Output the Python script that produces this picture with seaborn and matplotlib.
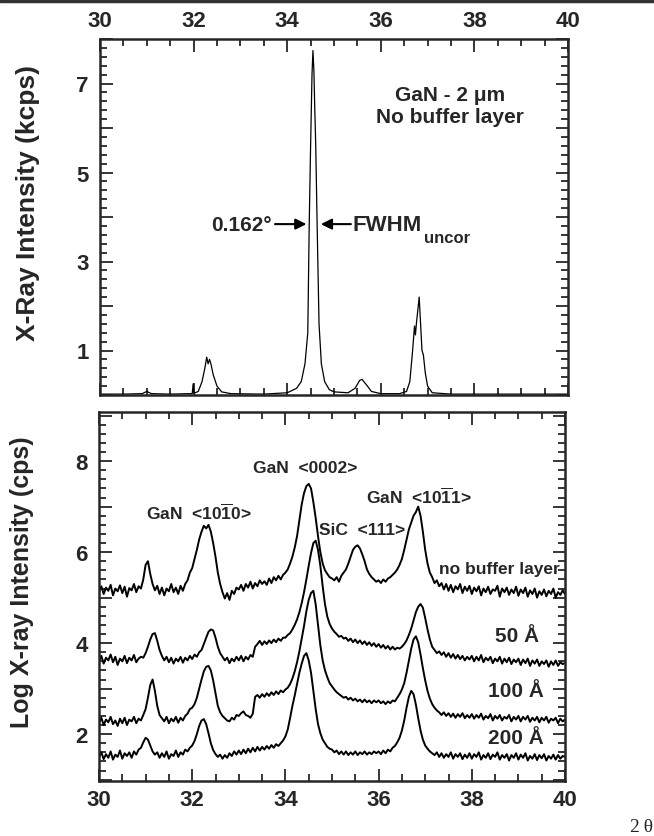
import numpy as np
import pandas as pd
import seaborn as sns
import matplotlib.pyplot as plt
from matplotlib.ticker import MultipleLocator, FuncFormatter
from matplotlib.lines import Line2D

# top panel: GaN 2 um, no buffer layer, linear intensity (kcps)
top_theta = [30.0, 30.5, 30.9, 31.0, 31.1, 31.5, 31.9, 31.97, 31.99, 32.01, 32.1, 32.18,
             32.24, 32.28, 32.31, 32.34, 32.37, 32.42, 32.5, 32.6, 32.8, 33.5, 34.0, 34.2,
             34.3, 34.38, 34.44, 34.47, 34.5, 34.53, 34.55, 34.57, 34.59, 34.61, 34.64,
             34.68, 34.73, 34.8, 34.9, 35.0, 35.3, 35.45, 35.55, 35.6, 35.7, 35.8, 36.0,
             36.4, 36.55, 36.62, 36.68, 36.72, 36.74, 36.76, 36.79, 36.82, 36.85, 36.88,
             36.91, 36.95, 37.0, 37.1, 37.5, 40.0]
top_kcps = [0.02, 0.02, 0.03, 0.08, 0.03, 0.02, 0.03, 0.03, 0.25, 0.04, 0.08, 0.3,
            0.6, 0.85, 0.7, 0.8, 0.7, 0.45, 0.2, 0.07, 0.03, 0.02, 0.05, 0.15,
            0.3, 0.7, 1.4, 3.8, 5.6, 7.2, 7.74, 7.3, 6.4, 5.6, 3.8,
            1.6, 0.7, 0.3, 0.12, 0.07, 0.05, 0.15, 0.33, 0.35, 0.22, 0.08, 0.03,
            0.03, 0.08, 0.3, 1.0, 1.55, 1.35, 1.6, 1.9, 2.2, 1.6, 1.0,
            0.9, 0.5, 0.2, 0.05, 0.02, 0.02]

# bottom panel: log intensity, read every 0.05 deg from 30 to 40
theta = np.linspace(30, 40, 201)

no_buffer = [
    5.12, 5.25, 5.08, 5.22, 5.15, 5.28, 5.05, 5.20, 5.14, 5.27, 5.10, 5.24, 5.02, 5.21, 5.16, 5.30, 5.12, 5.25, 5.20, 5.40,
    5.72, 5.80, 5.52, 5.30, 5.16, 5.26, 5.08, 5.22, 5.05, 5.20, 5.14, 5.30, 5.12, 5.22, 5.08, 5.26, 5.15, 5.30, 5.38, 5.55,
    5.65, 5.85, 6.05, 6.28, 6.45, 6.58, 6.52, 6.60, 6.45, 6.20, 5.90, 5.55, 5.30, 5.12, 4.98, 5.10, 4.95, 5.15, 5.08, 5.22,
    5.18, 5.28, 5.15, 5.30, 5.22, 5.35, 5.20, 5.32, 5.25, 5.38, 5.30, 5.36, 5.28, 5.42, 5.32, 5.45, 5.38, 5.48, 5.40, 5.50,
    5.55, 5.62, 5.75, 5.90, 6.10, 6.35, 6.70, 7.05, 7.30, 7.45, 7.50, 7.40, 7.10, 6.75, 6.35, 6.00, 5.75, 5.60, 5.52, 5.45,
    5.42, 5.38, 5.45, 5.35, 5.48, 5.55, 5.62, 5.75, 5.90, 6.05, 6.12, 6.15, 6.08, 5.95, 5.80, 5.62, 5.52, 5.45, 5.40, 5.35,
    5.38, 5.32, 5.40, 5.35, 5.42, 5.45, 5.50, 5.55, 5.62, 5.72, 5.85, 6.05, 6.28, 6.50, 6.65, 6.80, 6.88, 7.00, 6.80, 6.45,
    6.05, 5.75, 5.55, 5.45, 5.32, 5.38, 5.25, 5.32, 5.18, 5.30, 5.15, 5.28, 5.12, 5.25, 5.18, 5.30, 5.10, 5.24, 5.15, 5.26,
    5.08, 5.22, 5.14, 5.25, 5.05, 5.20, 5.12, 5.24, 5.08, 5.18, 5.15, 5.26, 5.02, 5.20, 5.12, 5.22, 5.06, 5.18, 5.10, 5.24,
    5.04, 5.18, 5.10, 5.22, 5.02, 5.16, 5.08, 5.20, 5.00, 5.14, 5.06, 5.18, 5.03, 5.15, 5.08, 5.20, 5.00, 5.12, 5.06, 5.16,
    5.08]

buffer_50 = [
    3.60, 3.72, 3.55, 3.68, 3.62, 3.75, 3.58, 3.70, 3.52, 3.66, 3.60, 3.72, 3.56, 3.68, 3.62, 3.74, 3.58, 3.66, 3.70, 3.68,
    3.78, 3.92, 4.08, 4.20, 4.22, 4.05, 3.85, 3.72, 3.62, 3.70, 3.58, 3.68, 3.55, 3.66, 3.60, 3.70, 3.57, 3.68, 3.62, 3.72,
    3.65, 3.75, 3.70, 3.80, 3.85, 3.98, 4.12, 4.25, 4.30, 4.28, 4.12, 3.92, 3.78, 3.70, 3.62, 3.68, 3.56, 3.66, 3.60, 3.70,
    3.62, 3.72, 3.60, 3.70, 3.64, 3.74, 3.70, 3.92, 3.98, 4.05, 3.96, 4.04, 3.98, 4.06, 4.00, 4.08, 4.02, 4.10, 4.05, 4.12,
    4.12, 4.18, 4.22, 4.30, 4.40, 4.52, 4.68, 4.88, 5.12, 5.40, 5.70, 5.98, 6.20, 6.25, 6.05, 5.70, 5.25, 4.85, 4.58, 4.42,
    4.32, 4.25, 4.20, 4.14, 4.16, 4.10, 4.12, 4.05, 4.10, 4.02, 4.08, 4.00, 4.06, 3.98, 4.04, 3.96, 4.02, 3.94, 4.00, 3.92,
    3.98, 3.90, 3.96, 3.88, 3.94, 3.86, 3.92, 3.86, 3.90, 3.88, 3.92, 3.98, 4.06, 4.18, 4.32, 4.50, 4.68, 4.80, 4.86, 4.78,
    4.55, 4.30, 4.08, 3.92, 3.85, 3.78, 3.82, 3.74, 3.80, 3.70, 3.78, 3.68, 3.76, 3.66, 3.74, 3.65, 3.72, 3.62, 3.70, 3.64,
    3.72, 3.60, 3.70, 3.62, 3.74, 3.58, 3.68, 3.62, 3.70, 3.56, 3.66, 3.60, 3.70, 3.55, 3.66, 3.58, 3.68, 3.54, 3.64, 3.58,
    3.66, 3.52, 3.64, 3.56, 3.66, 3.50, 3.62, 3.55, 3.64, 3.50, 3.60, 3.54, 3.62, 3.48, 3.60, 3.52, 3.62, 3.50, 3.58, 3.54,
    3.56]

buffer_100 = [
    2.25, 2.36, 2.20, 2.32, 2.26, 2.38, 2.22, 2.30, 2.18, 2.34, 2.24, 2.36, 2.20, 2.32, 2.28, 2.38, 2.24, 2.34, 2.30, 2.42,
    2.55, 2.80, 3.08, 3.20, 2.95, 2.62, 2.42, 2.35, 2.28, 2.38, 2.24, 2.34, 2.28, 2.38, 2.25, 2.36, 2.30, 2.40, 2.45, 2.55,
    2.58, 2.66, 2.80, 3.00, 3.20, 3.38, 3.48, 3.50, 3.40, 3.18, 2.90, 2.62, 2.48, 2.40, 2.35, 2.30, 2.28, 2.36, 2.32, 2.42,
    2.40, 2.46, 2.50, 2.42, 2.40, 2.36, 2.45, 2.82, 2.86, 2.80, 2.88, 2.82, 2.90, 2.84, 2.92, 2.86, 2.94, 2.88, 2.96, 2.92,
    2.98, 3.02, 3.10, 3.22, 3.38, 3.58, 3.82, 4.10, 4.38, 4.70, 4.95, 5.10, 5.15, 4.85, 4.40, 3.95, 3.62, 3.40, 3.25, 3.12,
    3.05, 2.98, 2.92, 2.88, 2.84, 2.80, 2.82, 2.76, 2.80, 2.74, 2.78, 2.72, 2.76, 2.70, 2.76, 2.70, 2.74, 2.68, 2.74, 2.70,
    2.74, 2.68, 2.72, 2.66, 2.72, 2.68, 2.74, 2.72, 2.80, 2.88, 2.98, 3.12, 3.35, 3.62, 3.88, 4.08, 4.15, 4.02, 3.75, 3.45,
    3.18, 2.95, 2.78, 2.66, 2.58, 2.52, 2.48, 2.42, 2.48, 2.40, 2.46, 2.38, 2.45, 2.36, 2.44, 2.38, 2.46, 2.35, 2.42, 2.36,
    2.44, 2.34, 2.42, 2.36, 2.45, 2.32, 2.40, 2.35, 2.44, 2.30, 2.40, 2.34, 2.42, 2.30, 2.38, 2.34, 2.42, 2.28, 2.38, 2.32,
    2.40, 2.28, 2.38, 2.32, 2.40, 2.27, 2.36, 2.30, 2.38, 2.26, 2.36, 2.30, 2.38, 2.25, 2.34, 2.30, 2.36, 2.24, 2.34, 2.28,
    2.32]

buffer_200 = [
    1.50, 1.60, 1.45, 1.56, 1.48, 1.62, 1.44, 1.55, 1.50, 1.64, 1.46, 1.58, 1.52, 1.60, 1.48, 1.62, 1.55, 1.66, 1.70, 1.82,
    1.92, 1.88, 1.75, 1.62, 1.55, 1.60, 1.48, 1.58, 1.50, 1.62, 1.46, 1.56, 1.52, 1.64, 1.50, 1.60, 1.55, 1.66, 1.62, 1.70,
    1.75, 1.85, 2.00, 2.18, 2.30, 2.33, 2.22, 2.02, 1.80, 1.65, 1.56, 1.50, 1.55, 1.46, 1.54, 1.48, 1.58, 1.52, 1.62, 1.55,
    1.64, 1.56, 1.66, 1.58, 1.68, 1.60, 1.70, 1.62, 1.72, 1.64, 1.72, 1.66, 1.74, 1.68, 1.76, 1.70, 1.78, 1.74, 1.80, 1.86,
    1.95, 2.10, 2.35, 2.62, 2.85, 3.10, 3.35, 3.55, 3.72, 3.78, 3.62, 3.35, 2.95, 2.55, 2.22, 2.02, 1.88, 1.80, 1.72, 1.68,
    1.66, 1.60, 1.64, 1.56, 1.62, 1.55, 1.62, 1.54, 1.60, 1.55, 1.62, 1.54, 1.60, 1.56, 1.62, 1.55, 1.60, 1.56, 1.62, 1.58,
    1.62, 1.56, 1.64, 1.58, 1.66, 1.62, 1.70, 1.74, 1.82, 1.92, 2.08, 2.30, 2.58, 2.82, 2.95, 2.88, 2.65, 2.35, 2.08, 1.88,
    1.75, 1.68, 1.62, 1.58, 1.54, 1.60, 1.50, 1.58, 1.48, 1.56, 1.50, 1.60, 1.46, 1.56, 1.50, 1.58, 1.45, 1.55, 1.48, 1.58,
    1.46, 1.56, 1.50, 1.60, 1.44, 1.54, 1.48, 1.58, 1.45, 1.55, 1.50, 1.60, 1.44, 1.54, 1.48, 1.56, 1.42, 1.54, 1.48, 1.58,
    1.44, 1.55, 1.48, 1.58, 1.42, 1.52, 1.46, 1.56, 1.43, 1.54, 1.47, 1.56, 1.42, 1.52, 1.46, 1.55, 1.44, 1.54, 1.46, 1.52,
    1.50]

curve_names = ["no buffer layer", "50 \u00c5", "100 \u00c5", "200 \u00c5"]

sns.set_style("ticks")
plt.rcParams['font.family'] = ['Liberation Sans', 'DejaVu Sans']
plt.rcParams['font.weight'] = 'bold'
plt.rcParams['mathtext.fontset'] = 'custom'
plt.rcParams['mathtext.rm'] = 'Liberation Sans:bold'
plt.rcParams['mathtext.bf'] = 'Liberation Sans:bold'
plt.rcParams['mathtext.it'] = 'Liberation Sans:bold'

fig = plt.figure(figsize=(6.54, 8.37), dpi=100)
ax1 = fig.add_axes([100/654, 1-396/837, 468/654, 356/837])
ax2 = fig.add_axes([99/654, 1-782/837, 466/654, 369/837])

# top panel
sns.lineplot(x=top_theta, y=top_kcps, ax=ax1, estimator=None, sort=False, color='k', lw=0.9)
ax1.set_xlim(30, 40)
ax1.set_ylim(0, 8)

# bottom panel
df = pd.DataFrame({
    'theta': np.tile(theta, 4),
    'logI': no_buffer + buffer_50 + buffer_100 + buffer_200,
    'sample': np.repeat(curve_names, len(theta)),
})
sns.lineplot(data=df, x='theta', y='logI', units='sample', estimator=None, color='k', lw=1.4, ax=ax2)
ax2.set_xlim(30, 40)
ax2.set_ylim(0.97, 9.08)

odd_fmt = FuncFormatter(lambda v, p: f"{v:.0f}" if round(v) % 2 == 1 else "")
even_fmt = FuncFormatter(lambda v, p: f"{v:.0f}" if round(v) % 2 == 0 else "")

for ax in (ax1, ax2):
    ax.xaxis.set_major_locator(MultipleLocator(2))
    ax.xaxis.set_minor_locator(MultipleLocator(0.5))
    ax.yaxis.set_major_locator(MultipleLocator(1))
    ax.yaxis.set_minor_locator(MultipleLocator(0.2))
    ax.tick_params(which='both', direction='in', top=True, right=True, width=1.3, labelsize=16)
    ax.tick_params(which='major', length=9)
    ax.tick_params(which='minor', length=5)
    ax.set_xlabel('')
    ax.set_ylabel('')
    for s in ax.spines.values():
        s.set_linewidth(1.8)

ax1.yaxis.set_major_formatter(odd_fmt)
ax2.yaxis.set_major_formatter(even_fmt)
ax1.tick_params(axis='x', labeltop=True, labelbottom=False, pad=6)
ax2.tick_params(axis='x', labeltop=False, labelbottom=True, pad=6)
ax1.tick_params(axis='y', pad=8)
ax2.tick_params(axis='y', pad=8)

# top panel annotations
ax1.text(37.48, 6.76, "GaN - 2 \u03bcm", ha='center', va='center', fontsize=15)
ax1.text(37.48, 6.25, "No buffer layer", ha='center', va='center', fontsize=15)
ax1.text(33.68, 3.84, "0.162\u00b0", ha='right', va='center', fontsize=15)
ax1.annotate('', xy=(34.47, 3.84), xytext=(33.68, 3.84),
             arrowprops=dict(arrowstyle='-|>', color='k', lw=1.5, mutation_scale=16))
ax1.annotate('', xy=(34.66, 3.84), xytext=(35.42, 3.84),
             arrowprops=dict(arrowstyle='-|>', color='k', lw=1.5, mutation_scale=16))
ax1.text(35.40, 3.84, "FWHM", ha='left', va='center', fontsize=16)
ax1.text(36.92, 3.55, "uncor", ha='left', va='center', fontsize=12)

# bottom panel annotations
ax2.text(34.43, 7.87, "GaN  <0002>", ha='center', va='center', fontsize=12.5)
ax2.text(32.14, 6.88, r"GaN  <10$\overline{\mathrm{1}}$0>", ha='center', va='center', fontsize=12.5)
ax2.text(35.65, 6.50, "SiC  <111>", ha='center', va='center', fontsize=12.5)
ax2.text(36.86, 7.24, r"GaN  <10$\overline{\mathrm{1}}$1>", ha='center', va='center', fontsize=12.5)
ax2.text(39.88, 5.63, curve_names[0], ha='right', va='center', fontsize=12.5)
ax2.text(39.45, 4.16, curve_names[1], ha='right', va='center', fontsize=15)
ax2.text(39.55, 2.95, curve_names[2], ha='right', va='center', fontsize=15)
ax2.text(39.55, 1.93, curve_names[3], ha='right', va='center', fontsize=15)

fig.text(28/654, 1-203/837, "X-Ray Intensity (kcps)", rotation=90, ha='center', va='center', fontsize=19)
fig.text(22/654, 1-582/837, "Log X-ray Intensity (cps)", rotation=90, ha='center', va='center', fontsize=18)
fig.text(641/654, 1-828/837, "2\u2009\u03b8", ha='center', va='center', fontsize=14,
         fontweight='normal', family=['Liberation Serif', 'DejaVu Serif'])

# scan edge line across the top
fig.add_artist(Line2D([0, 1], [0.998, 0.998], color='#333333', lw=2.5, transform=fig.transFigure))

fig.savefig('out.png', dpi=100)
